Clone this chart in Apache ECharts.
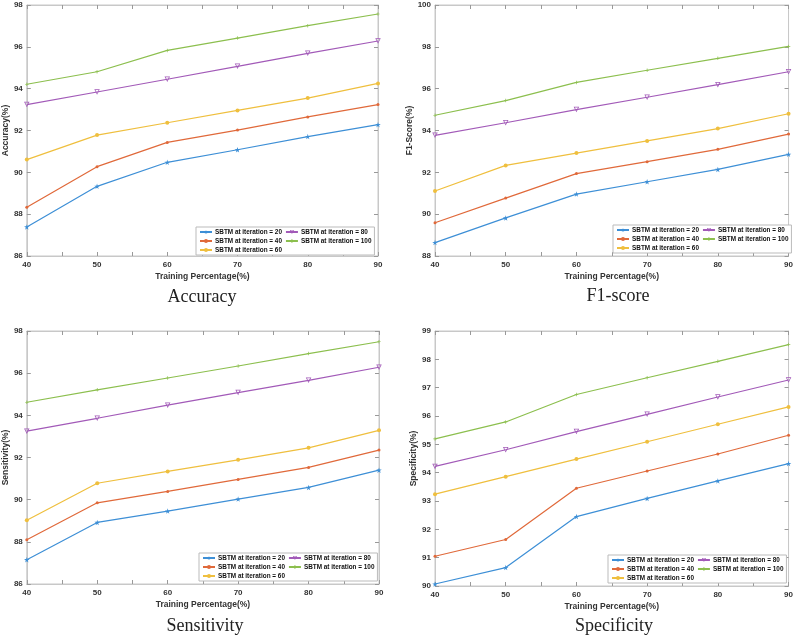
<!DOCTYPE html>
<html>
<head>
<meta charset="utf-8">
<script src="https://cdn.jsdelivr.net/npm/echarts@6/dist/echarts.min.js"></script>
<style>
  html, body { margin: 0; padding: 0; background: #fff; }
  #chart { width: 796px; height: 635px; }
</style>
</head>
<body>
<div id="chart"></div>
<script>
// training percentages on the x axis
const trainPct = [40, 50, 60, 70, 80, 90]
const seriesNames = ['SBTM at iteration = 20', 'SBTM at iteration = 40', 'SBTM at iteration = 60',
  'SBTM at iteration = 80', 'SBTM at iteration = 100']

// Accuracy
const acc20 = [87.39, 89.33, 90.48, 91.08, 91.71, 92.28]
const acc40 = [88.33, 90.27, 91.43, 92.02, 92.65, 93.24]
const acc60 = [90.61, 91.78, 92.37, 92.96, 93.55, 94.25]
const acc80 = [93.24, 93.84, 94.45, 95.07, 95.69, 96.28]
const acc100 = [94.21, 94.81, 95.83, 96.42, 97.01, 97.57]

// F1-score
const f120 = [88.64, 89.82, 90.96, 91.55, 92.14, 92.86]
const f140 = [89.59, 90.77, 91.94, 92.51, 93.10, 93.83]
const f160 = [91.11, 92.33, 92.92, 93.50, 94.09, 94.80]
const f180 = [93.77, 94.37, 95.00, 95.59, 96.19, 96.81]
const f1100 = [94.73, 95.43, 96.30, 96.88, 97.45, 98.02]

// Sensitivity
const sen20 = [87.15, 88.92, 89.46, 90.03, 90.58, 91.40]
const sen40 = [88.10, 89.85, 90.39, 90.96, 91.53, 92.35]
const sen60 = [89.02, 90.78, 91.34, 91.89, 92.46, 93.29]
const sen80 = [93.25, 93.86, 94.48, 95.08, 95.66, 96.28]
const sen100 = [94.62, 95.21, 95.77, 96.34, 96.93, 97.49]

// Specificity
const spe20 = [90.07, 90.65, 92.45, 93.09, 93.71, 94.32]
const spe40 = [91.05, 91.64, 93.45, 94.06, 94.66, 95.32]
const spe60 = [93.24, 93.86, 94.48, 95.09, 95.71, 96.32]
const spe80 = [94.22, 94.81, 95.45, 96.06, 96.67, 97.27]
const spe100 = [95.19, 95.79, 96.76, 97.35, 97.93, 98.52]

const colors = ['#3d8fd6', '#e0693a', '#efbf3e', '#a25ab8', '#8cbf4e']
const starPath = 'path://M50,0 L61,35 L98,35 L68,57 L79,91 L50,70 L21,91 L32,57 L2,35 L39,35 Z'
const crossPath = 'path://M0,40 L40,40 L40,0 L60,0 L60,40 L100,40 L100,60 L60,60 L60,100 L40,100 L40,60 L0,60 Z'
// open down-pointing triangle (inner path wound the other way to leave a hole)
const downTriPath = 'path://M0,0 L100,0 L50,87 Z M22,12 L50,62 L78,12 Z'
const symbols = [
  { symbol: starPath, symbolSize: 5.5 },
  { symbol: 'circle', symbolSize: 3 },
  { symbol: 'circle', symbolSize: 4 },
  { symbol: downTriPath, symbolSize: 5.5 },
  { symbol: crossPath, symbolSize: 3.5 }
]

const panels = [
  { title: 'Accuracy', yName: 'Accuracy(%)', min: 86, max: 98, interval: 2,
    data: [acc20, acc40, acc60, acc80, acc100],
    grid: { left: 20, top: 5, width: 358, height: 251 }, legend: { left: 196, top: 227 }, titleX: 197, titleY: 283 },
  { title: 'F1-score', yName: 'F1-Score(%)', min: 88, max: 100, interval: 2,
    data: [f120, f140, f160, f180, f1100],
    grid: { left: 435, top: 5, width: 357, height: 251 }, legend: { left: 613, top: 225 }, titleX: 613, titleY: 282 },
  { title: 'Sensitivity', yName: 'Sensitivity(%)', min: 86, max: 98, interval: 2,
    data: [sen20, sen40, sen60, sen80, sen100],
    grid: { left: 21, top: 331, width: 358, height: 253 }, legend: { left: 199, top: 553 }, titleX: 200, titleY: 612 },
  { title: 'Specificity', yName: 'Specificity(%)', min: 90, max: 99, interval: 1,
    data: [spe20, spe40, spe60, spe80, spe100],
    grid: { left: 435, top: 331, width: 357, height: 255 }, legend: { left: 608, top: 555 }, titleX: 609, titleY: 612 }
]

const axisColor = '#c8c8c8'
const labelStyle = { color: '#333', fontSize: 8, fontWeight: 'bold', fontFamily: 'Liberation Sans' }

const option = {
  animation: false,
  backgroundColor: '#fff',
  title: [], grid: [], xAxis: [], yAxis: [], legend: [], series: []
}

panels.forEach((p, i) => {
  option.grid.push({ ...p.grid, show: true, borderColor: axisColor, borderWidth: 1, backgroundColor: '#fff' })
  option.title.push({
    text: p.title, left: p.titleX, top: p.titleY, textAlign: 'center',
    textStyle: { fontFamily: 'Liberation Serif', fontSize: 18, fontWeight: 'normal', color: '#222' }
  })
  // bottom + top x axes
  option.xAxis.push({
    type: 'value', gridIndex: i, min: 40, max: 90, interval: 10,
    name: 'Training Percentage(%)', nameLocation: 'middle', nameGap: 16,
    nameTextStyle: { ...labelStyle, fontSize: 8.5 },
    axisLine: { lineStyle: { color: axisColor } },
    axisTick: { inside: true, length: 4, lineStyle: { color: '#999' } },
    minorTick: { show: true, splitNumber: 2, length: 4, lineStyle: { color: '#999' } },
    axisLabel: { ...labelStyle, margin: 5 },
    splitLine: { show: false }
  })
  option.xAxis.push({
    type: 'value', gridIndex: i, position: 'top', min: 40, max: 90, interval: 10,
    axisLine: { lineStyle: { color: axisColor } },
    axisTick: { inside: true, length: 4, lineStyle: { color: '#999' } },
    minorTick: { show: true, splitNumber: 2, length: 4, lineStyle: { color: '#999' } },
    axisLabel: { show: false }, splitLine: { show: false }
  })
  // left + right y axes
  option.yAxis.push({
    type: 'value', gridIndex: i, min: p.min, max: p.max, interval: p.interval,
    name: p.yName, nameLocation: 'middle', nameGap: 12, nameRotate: 90,
    nameTextStyle: { ...labelStyle, fontSize: 8.5 },
    axisLine: { show: true, lineStyle: { color: axisColor } },
    axisTick: { show: true, inside: true, length: 4, lineStyle: { color: '#999' } },
    axisLabel: { ...labelStyle, margin: 4 },
    splitLine: { show: false }
  })
  option.yAxis.push({
    type: 'value', gridIndex: i, position: 'right', min: p.min, max: p.max, interval: p.interval,
    axisLine: { show: true, lineStyle: { color: axisColor } },
    axisTick: { show: true, inside: true, length: 4, lineStyle: { color: '#999' } },
    axisLabel: { show: false }, splitLine: { show: false }
  })
  option.legend.push({
    ...p.legend, width: 182, padding: [2, 3, 2, 3], itemGap: 3,
    itemWidth: 12, itemHeight: 5,
    data: [seriesNames[0], seriesNames[3], seriesNames[1], seriesNames[4], seriesNames[2]],
    backgroundColor: '#fff', borderColor: '#bbb', borderWidth: 1,
    textStyle: { color: '#111', fontSize: 6.4, fontWeight: 'bold', fontFamily: 'Liberation Sans', padding: [0, 0, 0, -2] }
  })
  p.data.forEach((vals, k) => {
    option.series.push({
      name: seriesNames[k], type: 'line',
      xAxisIndex: i * 2, yAxisIndex: i * 2,
      data: trainPct.map((x, j) => [x, vals[j]]),
      ...symbols[k],
      itemStyle: { color: colors[k] },
      lineStyle: { width: 1.2, color: colors[k] }
    })
  })
})

const chart = echarts.init(document.getElementById('chart'))
chart.setOption(option)
window.addEventListener('resize', () => chart.resize())
</script>
</body>
</html>
